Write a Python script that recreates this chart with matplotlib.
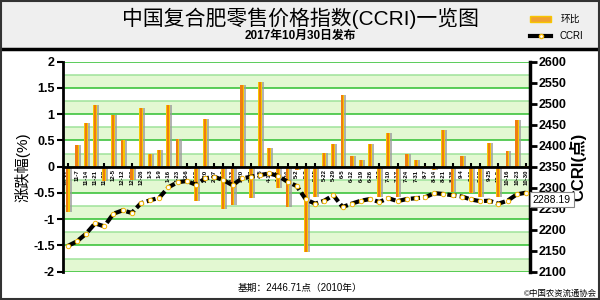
import numpy as np
import matplotlib.pyplot as plt
from matplotlib.patches import Rectangle
from matplotlib.lines import Line2D

plt.rcParams['font.family'] = ['Liberation Sans', 'Noto Sans CJK SC', 'DejaVu Sans']

# weekly release dates (2016-10-31 .. 2017-10-30)
dates = ['10-31', '11-7', '11-14', '11-21', '11-28', '12-5', '12-12', '12-20', '12-26',
         '1-3', '1-9', '1-16', '1-23', '2-6', '2-13', '2-20', '2-27', '3-6', '3-13',
         '3-20', '3-27', '4-5', '4-10', '4-17', '4-24', '5-2', '5-8', '5-15', '5-22',
         '5-29', '6-5', '6-12', '6-19', '6-26', '7-3', '7-10', '7-17', '7-24', '7-31',
         '8-7', '8-14', '8-21', '8-28', '9-4', '9-11', '9-18', '9-25', '10-2', '10-16',
         '10-23', '10-30']

# 环比 (%)
huanbi = [-0.87, 0.41, 0.84, 1.18, -0.28, 0.98, 0.51, -0.25, 1.12, 0.24,
          0.32, 1.18, 0.52, -0.05, -0.65, 0.91, -0.04, -0.80, -0.73, 1.56,
          -0.60, 1.61, 0.35, -0.41, -0.77, -0.07, -1.62, -0.57, 0.27, 0.43,
          1.37, 0.20, 0.13, 0.43, -0.57, 0.65, -0.57, 0.25, 0.13, 0.01,
          -0.06, 0.70, -0.48, 0.20, -0.50, -0.57, 0.46, -0.57, 0.30, 0.89, 0.02]

# CCRI index
ccri = [2161, 2172, 2190, 2215, 2208, 2238, 2246, 2240, 2263, 2270,
        2276, 2301, 2313, 2316, 2307, 2322, 2326, 2318, 2306, 2322,
        2326, 2330, 2334, 2328, 2314, 2304, 2272, 2262, 2269, 2282,
        2254, 2262, 2269, 2273, 2266, 2275, 2268, 2273, 2275, 2277,
        2287, 2285, 2282, 2279, 2272, 2268, 2269, 2262, 2269, 2284, 2288.19]

left_ticks = [2, 1.5, 1, 0.5, 0, -0.5, -1, -1.5, -2]
right_ticks = [2600, 2550, 2500, 2450, 2400, 2350, 2300, 2250, 2200, 2150, 2100]

x = np.arange(len(dates))

fig = plt.figure(figsize=(6, 3), dpi=100)

# header band and frame
fig.patches.append(Rectangle((0, 1 - 49 / 300), 1, 49 / 300, transform=fig.transFigure,
                             facecolor='#efefef', edgecolor='none', zorder=0))
fig.lines.append(Line2D([0, 1], [1 - 49 / 300] * 2, transform=fig.transFigure,
                        color='black', lw=2.5))
fig.patches.append(Rectangle((0.002, 0.003), 0.996, 0.994, transform=fig.transFigure,
                             facecolor='none', edgecolor='#333333', lw=1.5, zorder=5))

ax = fig.add_axes([63 / 600, 1 - 271.7 / 300, 467 / 600, 210 / 300])
ax2 = ax.twinx()
ax.spines['bottom'].set_position(('data', 0))

# bands + grid
for i, v in enumerate(np.arange(-2, 2, 0.25)):
    if i % 2 == 0:
        ax.axhspan(v, v + 0.25, color='#e3f8d2', lw=0, zorder=0)
for v in np.arange(-2, 2.01, 0.25):
    col = '#2fbf2f' if abs(v * 2 - round(v * 2)) < 1e-6 else '#9fe39a'
    ax.axhline(v, color=col, lw=1.1, zorder=1)

# bars: shadow, gold body, orange core
ax.bar(x + 0.22, huanbi, width=0.42, color='#9a9a9a', alpha=0.75, zorder=2)
ax.bar(x, huanbi, width=0.42, color='#f7c600', zorder=3)
ax.bar(x - 0.02, huanbi, width=0.24, color='#ef7d10', zorder=4)

ax.set_xlim(-0.5, 50.45)
ax.set_ylim(-2, 2)
ax.set_yticks(left_ticks)
ax.set_yticklabels(['2', '1.5', '1', '0.5', '0', '-0.5', '-1', '-1.5', '-2'],
                   fontsize=9, fontweight='bold')
ax.set_xticks(x)
ax.set_xticklabels(dates, rotation=90, fontsize=4.3, fontweight='bold')
ax.spines['bottom'].set_linewidth(2)
ax.spines['bottom'].set_zorder(6)
ax.spines['left'].set_linewidth(2)
ax.spines['top'].set_visible(False)
ax.spines['right'].set_visible(False)
ax.tick_params(axis='x', direction='in', length=3, width=1.5, pad=2, labelrotation=90)
ax.tick_params(axis='y', direction='out', length=4, width=1.5, pad=2)
ax.set_ylabel('涨跌幅(%)', fontsize=11, labelpad=2)

# CCRI line
ax2.plot(x, ccri, color='black', lw=3, ls=(0, (2.2, 0.8)), marker='o', ms=3.2,
         mfc='white', mec='#f2b400', mew=0.7, zorder=5)
ax2.set_ylim(2100, 2600)
ax2.set_yticks(right_ticks)
ax2.set_yticklabels([str(t) for t in right_ticks], fontsize=9, fontweight='bold')
for s in ['top', 'bottom', 'left']:
    ax2.spines[s].set_visible(False)
ax2.spines['right'].set_linewidth(2.5)
ax2.tick_params(axis='y', direction='out', length=5, width=2, pad=1)
ax2.set_ylabel('CCRI(点)', fontsize=12, fontweight='bold', labelpad=2)
ax2.annotate(f'{ccri[-1]:.2f}', xy=(x[-1], ccri[-1]), xytext=(5, -5),
             textcoords='offset points', fontsize=7.5, va='center', ha='left',
             bbox=dict(boxstyle='square,pad=0.25', fc='white', ec='#888888', lw=0.8),
             zorder=10, annotation_clip=False)

# titles
fig.text(0.5, 1 - 18 / 300, '中国复合肥零售价格指数(CCRI)一览图', ha='center', va='center',
         fontsize=15)
fig.text(0.5, 1 - 36 / 300, '2017年10月30日发布', ha='center', va='center',
         fontsize=8.5, fontweight='bold')

# legend
fig.patches.append(Rectangle((530 / 600, 1 - 22 / 300), 21 / 600, 6 / 300,
                             transform=fig.transFigure, facecolor='#f0a030',
                             edgecolor='#f7c600', lw=1))
fig.text(561 / 600, 1 - 19 / 300, '环比', fontsize=7, va='center')
fig.lines.append(Line2D([530 / 600, 540.5 / 600, 551 / 600], [1 - 36 / 300] * 3,
                        transform=fig.transFigure, color='black', lw=3, marker='o',
                        markevery=[1], ms=3, mfc='white', mec='#f2b400'))
fig.text(559 / 600, 1 - 36 / 300, 'CCRI', fontsize=7, va='center')

# footer
fig.text(0.5, 1 - 288 / 300, '基期：2446.71点（2010年）', ha='center', va='center', fontsize=7)
fig.text(0.995, 1 - 294 / 300, '©中国农资流通协会', ha='right', va='center', fontsize=6)

fig.savefig('out.png', dpi=100)
